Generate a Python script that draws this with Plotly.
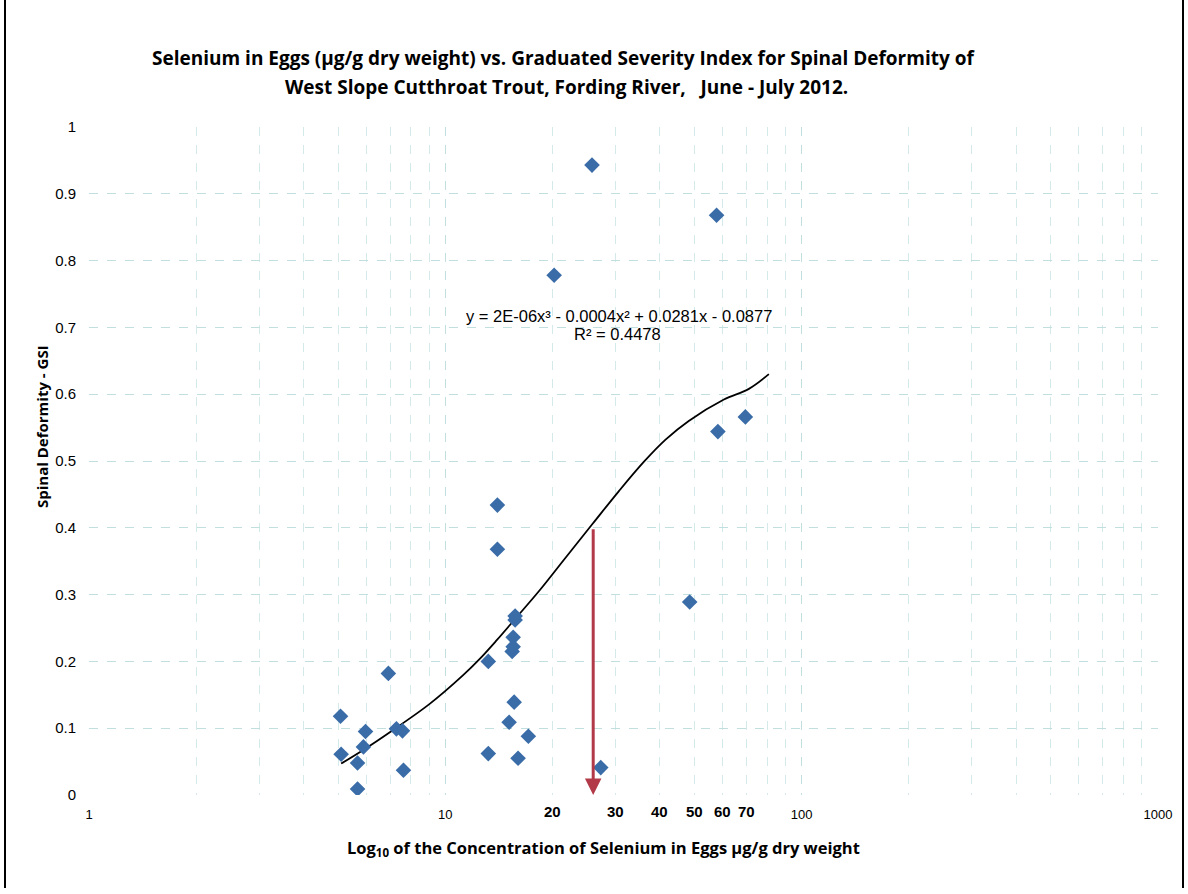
import math
import plotly.graph_objects as go

# ---- data ----
se_eggs = [5.08, 5.1, 5.67, 5.67, 5.89, 5.97, 6.92, 7.29, 7.58, 7.63,
           13.2, 13.2, 14.0, 14.0, 15.1, 15.6, 16.0, 17.1,
           15.4, 15.5, 15.5, 15.7, 15.7,
           20.2, 25.8, 27.3, 48.5, 57.7, 58.2, 69.5]
gsi = [0.118, 0.061, 0.048, 0.009, 0.072, 0.095, 0.182, 0.099, 0.096, 0.037,
       0.062, 0.200, 0.434, 0.368, 0.109, 0.139, 0.055, 0.088,
       0.215, 0.222, 0.236, 0.262, 0.268,
       0.778, 0.943, 0.041, 0.289, 0.868, 0.544, 0.566]

# trendline points
trend_x = [5.10, 5.87, 7.12, 9.02, 11.2, 12.45, 13.9, 15.78, 18.3, 21.8, 25.9,
           30.7, 36.1, 41.5, 48.2, 60.5, 71.1, 80.9]
trend_y = [0.047, 0.067, 0.097, 0.136, 0.179, 0.203, 0.231, 0.265, 0.305, 0.356, 0.406,
           0.455, 0.499, 0.532, 0.560, 0.592, 0.608, 0.630]

# red marker arrow
arrow_x = 26.0
arrow_top = 0.40

y_ticks = [0, 0.1, 0.2, 0.3, 0.4, 0.5, 0.6, 0.7, 0.8, 0.9, 1]
x_ticks = [1, 10, 100, 1000]
x_extra_ticks = [20, 30, 40, 50, 60, 70]

title_line1 = "Selenium in Eggs (\u00b5g/g dry weight) vs. Graduated Severity Index for Spinal Deformity of"
title_line2 = "West Slope Cutthroat Trout, Fording River,   June - July 2012."
equation = "y = 2E-06x\u00b3 - 0.0004x\u00b2 + 0.0281x - 0.0877"
r2 = "R\u00b2 = 0.4478"

# pixel helpers for paper coordinates (plot area 89..1158 x 127..795)
L, R, T, B = 89, 1158, 127, 795
def px(x):
    return (x - L) / (R - L)
def py(y):
    return (B - y) / (B - T)

fig = go.Figure()

fig.add_trace(go.Scatter(
    x=trend_x, y=trend_y, mode="lines", line=dict(color="black", width=1.8, shape="spline", smoothing=1.0),
    showlegend=False, hoverinfo="skip"))

fig.add_trace(go.Scatter(
    x=se_eggs, y=gsi, mode="markers",
    marker=dict(symbol="diamond", size=12, color="#3a6ca8", line=dict(width=0)),
    showlegend=False))

grid_col = "#c2dfdf"
minor_col = "#d4e9e9"
fig.update_layout(
    width=1188, height=894,
    margin=dict(l=L, r=1188 - R, t=T, b=894 - B, autoexpand=False),
    paper_bgcolor="white", plot_bgcolor="white",
    font=dict(family="Liberation Sans, Arial", color="black"),
    xaxis=dict(type="log", range=[0, 3], tickvals=x_ticks, ticktext=[str(v) for v in x_ticks],
               showgrid=True, gridcolor=grid_col, griddash="dash", gridwidth=1,
               minor=dict(dtick="D1", showgrid=True, gridcolor=minor_col, griddash="dash", gridwidth=1),
               zeroline=False, showline=False, ticks="", automargin=False,
               tickfont=dict(size=13, family="Liberation Sans Narrow, Liberation Sans"),
               ticklabelstandoff=10),
    yaxis=dict(range=[0, 1], tickvals=y_ticks, ticktext=[("%g" % v) for v in y_ticks],
               showgrid=True, gridcolor=grid_col, griddash="dash", gridwidth=1,
               zeroline=False, showline=False, ticks="", automargin=False,
               tickfont=dict(size=15, family="Liberation Sans"),
               ticklabelstandoff=12),
)

anns = []
anns.append(dict(text="<b>" + title_line1 + "</b>", xref="paper", yref="paper",
                 x=px(563), y=py(58), xanchor="center", yanchor="middle",
                 showarrow=False, font=dict(size=19, family="Open Sans")))
anns.append(dict(text="<b>" + title_line2 + "</b>", xref="paper", yref="paper",
                 x=px(566), y=py(87), xanchor="center", yanchor="middle",
                 showarrow=False, font=dict(size=19, family="Open Sans")))
anns.append(dict(text="<b>Spinal Deformity - GSI</b>", xref="paper", yref="paper",
                 x=px(42), y=py(426), textangle=-90,
                 xanchor="center", yanchor="middle", showarrow=False,
                 font=dict(size=15, family="Open Sans")))
anns.append(dict(text="<b>Log<sub>10</sub> of the Concentration of Selenium in Eggs \u00b5g/g dry weight</b>",
                 xref="paper", yref="paper", x=px(603), y=py(848),
                 xanchor="center", yanchor="middle", showarrow=False,
                 font=dict(size=16.5, family="Open Sans")))
anns.append(dict(text=equation, xref="paper", yref="paper",
                 x=px(619), y=py(316), xanchor="center", yanchor="middle",
                 showarrow=False, font=dict(size=16.5, family="Liberation Sans")))
anns.append(dict(text=r2, xref="paper", yref="paper",
                 x=px(617), y=py(334), xanchor="center", yanchor="middle",
                 showarrow=False, font=dict(size=16.5, family="Liberation Sans")))
for v in x_extra_ticks:
    anns.append(dict(text="<b>%d</b>" % v, xref="x", yref="paper", x=math.log10(v),
                     y=py(811), xanchor="center", yanchor="middle",
                     showarrow=False, font=dict(size=15, family="Liberation Sans")))
anns.append(dict(text="", xref="x", yref="y", x=math.log10(arrow_x), y=0,
                 axref="x", ayref="y", ax=math.log10(arrow_x), ay=arrow_top,
                 showarrow=True, arrowhead=2, arrowsize=1.1, arrowwidth=3, arrowcolor="#b23a48"))
fig.update_layout(annotations=anns)

# outer chart frame
fig.add_shape(type="line", xref="paper", yref="paper", x0=px(5), x1=px(5),
              y0=py(0), y1=py(888), line=dict(color="black", width=2))
fig.add_shape(type="line", xref="paper", yref="paper", x0=px(1183), x1=px(1183),
              y0=py(0), y1=py(888), line=dict(color="black", width=2))

fig.write_html("out.html", config={"displayModeBar": False},
               post_script="document.body.style.margin='0';")
